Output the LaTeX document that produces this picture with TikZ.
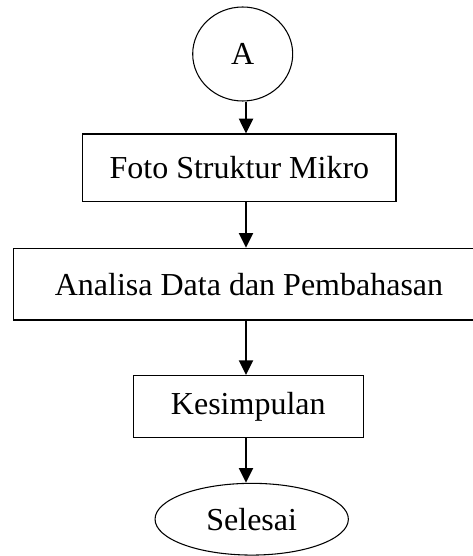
\documentclass[tikz,border=0pt]{standalone}
\usepackage{fontspec}
\setmainfont{Liberation Serif}
\usetikzlibrary{shapes.geometric,arrows.meta}

\tikzset{
  flowbox/.style={draw, line width=1pt, inner sep=0pt, font=\fontsize{24}{28}\selectfont},
  terminal/.style={draw, ellipse, line width=0.8pt, inner sep=0pt, font=\fontsize{24}{28}\selectfont},
  flowarrow/.style={line width=1.5pt, -{Triangle[width=10.5pt,length=11pt]}}
}

\begin{document}
\begin{tikzpicture}[x=0.75pt,y=0.75pt,yscale=-1,xscale=1]
        \useasboundingbox (0,0) rectangle (473,556);
        \clip (0,0) rectangle (473,556);
        % spine of the arrows
        \coordinate (spine) at (246,0);

        % Connector A
        \node [terminal, minimum width=75pt, minimum height=70.5pt] (conA) at (242.7,54) {A};
        % Process boxes
        \node [flowbox, minimum width=235pt, minimum height=50.8pt] (foto) at (239.4,167.9) {Foto Struktur Mikro};
        \node [flowbox, minimum width=353.5pt, minimum height=53.8pt] (analisa) at (249,284.2) {Analisa Data dan Pembahasan};
        \node [flowbox, minimum width=172.5pt, minimum height=46.2pt] (simpul) at (248.3,406.5) {Kesimpulan};
        % End
        \node [terminal, minimum width=145pt, minimum height=53.8pt] (selesai) at (251.7,519.2) {Selesai};

        % Arrows
        \draw [flowarrow] (conA.south -| spine) -- (foto.north -| spine);
        \draw [flowarrow] (foto.south -| spine) -- (analisa.north -| spine);
        \draw [flowarrow] (analisa.south -| spine) -- (simpul.north -| spine);
        \draw [flowarrow] (simpul.south -| spine) -- (selesai.north -| spine);
\end{tikzpicture}
\end{document}
